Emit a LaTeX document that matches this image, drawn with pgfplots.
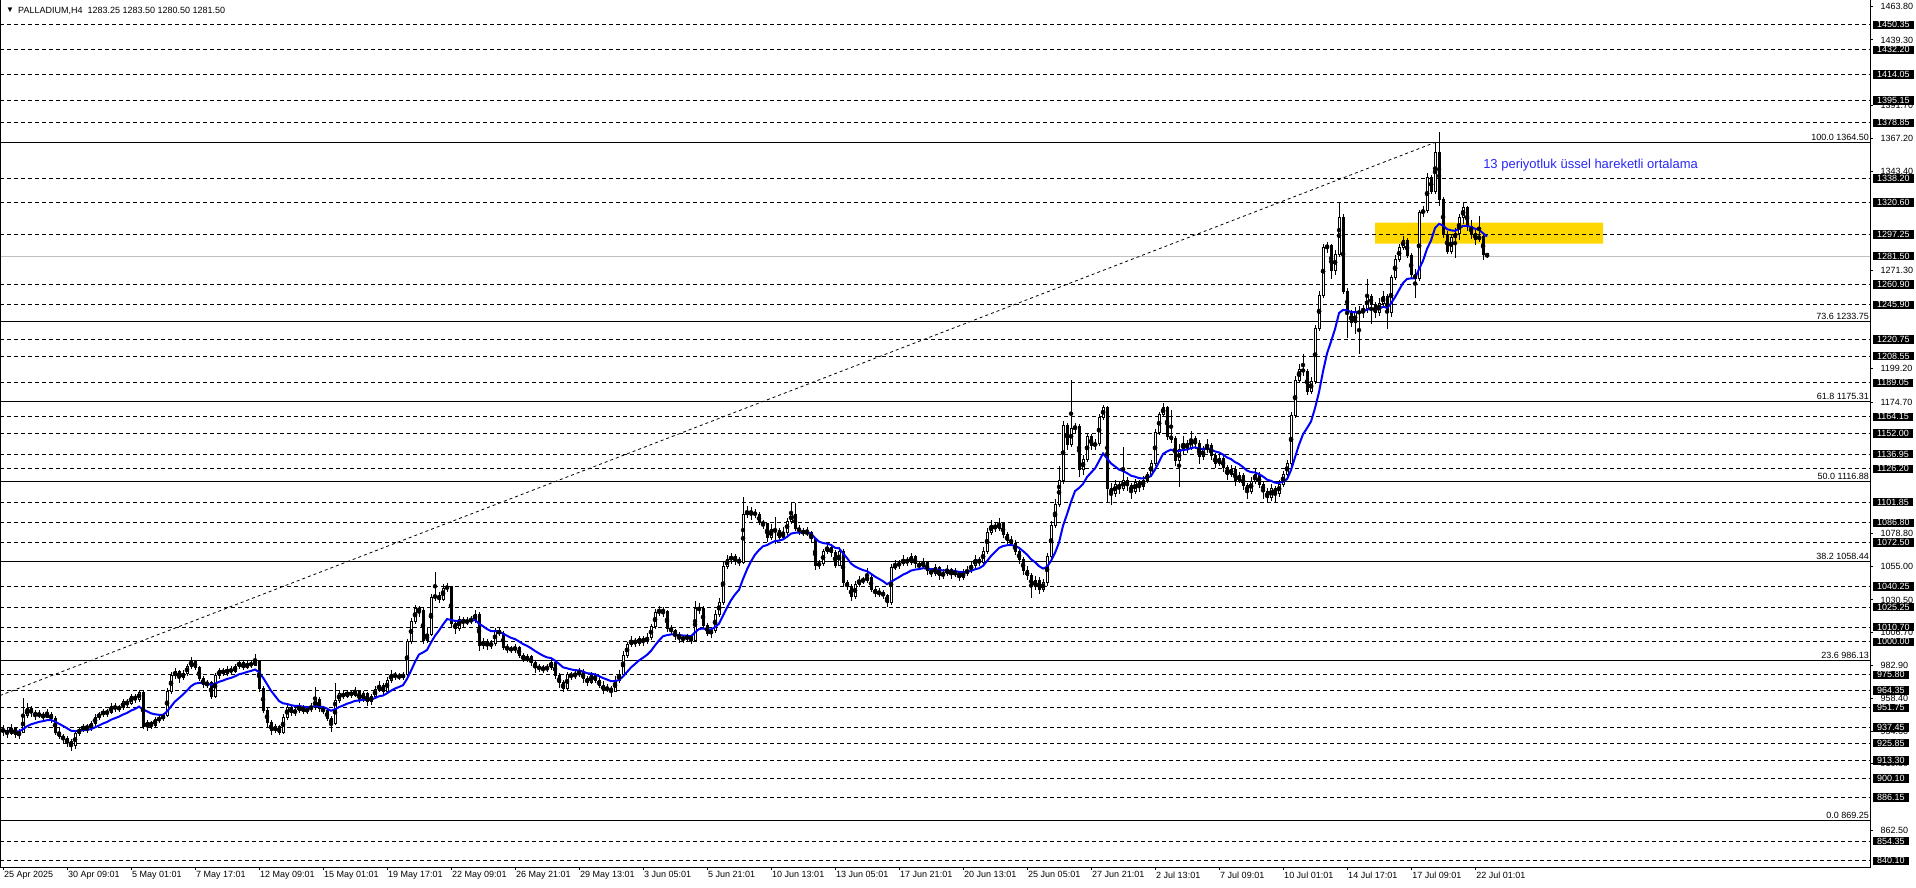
\documentclass[border=0pt]{standalone}
\usepackage{pgfplots}
\pgfplotsset{compat=1.18}
\usepackage{pgfplotstable}
\usepackage{fontspec}
\setmainfont{Liberation Sans}
\definecolor{emablue}{RGB}{0,0,255}
\definecolor{boxgold}{RGB}{255,215,0}
\definecolor{notecol}{RGB}{40,40,245}
\definecolor{pricegray}{RGB}{192,192,192}
\newcommand{\fs}{\fontsize{9}{10}\selectfont}

% H4 candles: bar index, open, high, low, close
\pgfplotstableread{
i o h l c
0 936 939 931 935
1 935 937 930 933
2 933 940 932 937
3 937 938 930 932
4 932 936 929 934
5 934 959 933 946
6 946 955 944 951
7 951 953 945 948
8 948 950 943 946
9 946 950 944 947
10 947 949 942 945
11 945 951 944 947
12 947 949 941 944
13 944 946 932 934
14 934 937 929 931
15 931 933 926 929
16 929 931 923 927
17 927 929 920 924
18 924 935 922 933
19 933 938 931 936
20 936 940 934 938
21 938 940 933 937
22 937 942 935 940
23 940 947 938 945
24 945 949 943 947
25 947 951 945 949
26 949 951 945 948
27 948 955 947 953
28 953 955 949 951
29 951 954 949 952
30 952 958 950 956
31 956 958 952 955
32 955 962 954 960
33 960 962 955 958
34 958 965 956 963
35 963 964 936 938
36 938 943 935 941
37 941 942 936 939
38 939 945 938 943
39 943 946 941 944
40 944 948 942 946
41 946 966 945 964
42 964 978 962 975
43 975 981 973 978
44 978 979 970 974
45 974 979 972 977
46 977 984 975 982
47 982 989 980 986
48 986 987 979 981
49 981 982 971 973
50 973 975 966 969
51 969 972 966 970
52 970 971 958 960
53 960 977 959 975
54 975 981 973 979
55 979 981 975 977
56 977 982 975 980
57 980 982 976 978
58 978 984 977 982
59 982 987 980 985
60 985 986 979 981
61 981 986 980 984
62 984 986 981 983
63 983 991 982 986
64 986 987 963 966
65 966 968 948 950
66 950 952 938 941
67 941 943 932 935
68 935 940 933 938
69 938 939 932 934
70 934 947 933 945
71 945 955 943 952
72 952 954 946 948
73 948 952 946 950
74 950 955 948 953
75 953 954 947 949
76 949 953 947 951
77 951 955 949 952
78 952 967 950 958
79 958 960 949 951
80 951 953 947 950
81 950 951 942 944
82 944 946 934 940
83 940 970 939 957
84 957 965 955 962
85 962 964 958 960
86 960 965 959 963
87 963 965 959 961
88 961 967 960 964
89 964 965 955 958
90 958 964 956 962
91 962 963 953 956
92 956 962 954 960
93 960 968 958 965
94 965 971 963 968
95 968 970 961 964
96 964 974 963 972
97 972 979 970 976
98 976 978 972 975
99 975 977 972 974
100 974 978 972 976
101 976 1002 975 1000
102 1000 1017 998 1015
103 1015 1027 1013 1024
104 1024 1026 1018 1023
105 1023 1025 998 1001
106 1001 1010 999 1005
107 1005 1035 1004 1032
108 1032 1051 1030 1034
109 1034 1036 1028 1031
110 1031 1042 1030 1039
111 1039 1043 1036 1040
112 1040 1041 1011 1013
113 1013 1016 1006 1010
114 1010 1019 1008 1016
115 1016 1018 1011 1014
116 1014 1018 1012 1015
117 1015 1019 1013 1016
118 1016 1023 1014 1020
119 1020 1022 993 997
120 997 1003 995 1000
121 1000 1002 994 997
122 997 1001 995 999
123 999 1010 997 1008
124 1008 1010 1004 1006
125 1006 1008 994 996
126 996 998 992 995
127 995 997 992 994
128 994 998 992 996
129 996 997 988 990
130 990 992 985 987
131 987 991 985 989
132 989 990 982 985
133 985 987 977 981
134 981 984 978 981
135 981 983 977 980
136 980 984 978 981
137 981 988 979 985
138 985 987 973 975
139 975 977 966 970
140 970 972 963 966
141 966 978 964 976
142 976 978 972 975
143 975 979 973 976
144 976 981 974 978
145 978 980 970 973
146 973 975 968 970
147 970 978 969 975
148 975 977 970 972
149 972 974 966 968
150 968 971 962 965
151 965 969 963 966
152 966 968 960 964
153 964 975 963 972
154 972 979 970 976
155 976 993 975 990
156 990 1000 988 998
157 998 1004 996 1001
158 1001 1003 996 999
159 999 1004 997 1002
160 1002 1004 997 1000
161 1000 1006 998 1003
162 1003 1013 1001 1011
163 1011 1024 1009 1021
164 1021 1026 1019 1023
165 1023 1025 1018 1022
166 1022 1023 1007 1010
167 1010 1012 1005 1008
168 1008 1009 1001 1005
169 1005 1007 999 1003
170 1003 1005 999 1002
171 1002 1006 1000 1004
172 1004 1005 998 1001
173 1001 1030 1000 1024
174 1024 1028 1020 1024
175 1024 1026 1010 1012
176 1012 1014 1004 1006
177 1006 1011 1003 1008
178 1008 1023 1006 1020
179 1020 1032 1018 1029
180 1029 1058 1027 1055
181 1055 1063 1053 1060
182 1060 1065 1057 1062
183 1062 1064 1056 1060
184 1060 1062 1055 1058
185 1058 1106 1057 1093
186 1093 1099 1090 1095
187 1095 1098 1089 1094
188 1094 1097 1090 1093
189 1093 1095 1085 1087
190 1087 1089 1082 1086
191 1086 1087 1073 1076
192 1076 1086 1074 1082
193 1082 1091 1071 1081
194 1081 1083 1074 1076
195 1076 1084 1074 1080
196 1080 1090 1078 1088
197 1088 1102 1086 1093
198 1093 1101 1081 1083
199 1083 1085 1078 1081
200 1081 1083 1077 1079
201 1079 1084 1077 1080
202 1080 1081 1072 1075
203 1075 1076 1052 1056
204 1056 1060 1053 1057
205 1057 1068 1055 1066
206 1066 1072 1064 1069
207 1069 1071 1062 1065
208 1065 1067 1054 1056
209 1056 1069 1055 1066
210 1066 1068 1041 1043
211 1043 1045 1038 1040
212 1040 1042 1030 1033
213 1033 1044 1031 1042
214 1042 1048 1040 1045
215 1045 1047 1042 1045
216 1045 1054 1043 1047
217 1047 1049 1036 1038
218 1038 1040 1033 1035
219 1035 1039 1033 1036
220 1036 1038 1031 1034
221 1034 1035 1025 1029
222 1029 1057 1027 1054
223 1054 1060 1052 1056
224 1056 1060 1053 1057
225 1057 1063 1055 1060
226 1060 1062 1055 1058
227 1058 1065 1056 1062
228 1062 1063 1054 1057
229 1057 1059 1052 1055
230 1055 1061 1053 1058
231 1058 1059 1049 1052
232 1052 1054 1047 1050
233 1050 1057 1048 1054
234 1054 1055 1045 1048
235 1048 1053 1046 1050
236 1050 1056 1048 1053
237 1053 1054 1046 1049
238 1049 1054 1047 1051
239 1051 1052 1044 1047
240 1047 1053 1045 1050
241 1050 1055 1048 1052
242 1052 1059 1050 1056
243 1056 1063 1054 1060
244 1060 1062 1055 1058
245 1058 1069 1056 1066
246 1066 1083 1064 1080
247 1080 1089 1078 1085
248 1085 1087 1080 1083
249 1083 1090 1081 1086
250 1086 1087 1076 1078
251 1078 1080 1071 1074
252 1074 1077 1070 1072
253 1072 1074 1063 1066
254 1066 1068 1057 1060
255 1060 1062 1049 1052
256 1052 1055 1045 1048
257 1048 1050 1032 1040
258 1040 1048 1038 1045
259 1045 1047 1035 1038
260 1038 1046 1036 1043
261 1043 1065 1041 1062
262 1062 1088 1060 1085
263 1085 1104 1083 1100
264 1100 1128 1098 1118
265 1118 1161 1115 1158
266 1158 1160 1140 1144
267 1144 1191 1142 1156
268 1156 1160 1152 1157
269 1157 1159 1120 1126
270 1126 1136 1122 1133
271 1133 1152 1131 1150
272 1150 1152 1140 1143
273 1143 1148 1140 1145
274 1145 1166 1143 1164
275 1164 1173 1162 1171
276 1171 1172 1102 1112
277 1112 1116 1100 1108
278 1108 1118 1106 1115
279 1115 1117 1108 1112
280 1112 1142 1110 1118
281 1118 1120 1110 1114
282 1114 1116 1104 1110
283 1110 1119 1108 1116
284 1116 1118 1109 1113
285 1113 1121 1111 1118
286 1118 1124 1116 1122
287 1122 1133 1120 1130
288 1130 1155 1128 1153
289 1153 1168 1151 1166
290 1166 1174 1164 1171
291 1171 1172 1147 1150
292 1150 1169 1145 1148
293 1148 1150 1128 1132
294 1132 1144 1113 1140
295 1140 1150 1137 1145
296 1145 1147 1138 1142
297 1142 1154 1140 1148
298 1148 1150 1141 1145
299 1145 1147 1130 1135
300 1135 1143 1133 1140
301 1140 1148 1138 1143
302 1143 1145 1133 1136
303 1136 1138 1127 1130
304 1130 1137 1128 1134
305 1134 1136 1124 1127
306 1127 1129 1118 1122
307 1122 1129 1120 1126
308 1126 1128 1114 1118
309 1118 1124 1116 1121
310 1121 1123 1111 1114
311 1114 1116 1104 1110
312 1110 1120 1108 1117
313 1117 1126 1115 1122
314 1122 1124 1112 1115
315 1115 1117 1104 1110
316 1110 1112 1101 1105
317 1105 1115 1103 1112
318 1112 1114 1102 1108
319 1108 1118 1106 1115
320 1115 1125 1113 1122
321 1122 1133 1120 1130
322 1130 1168 1128 1165
323 1165 1194 1163 1191
324 1191 1203 1189 1199
325 1199 1210 1194 1197
326 1197 1199 1180 1183
327 1183 1193 1181 1190
328 1190 1231 1188 1229
329 1229 1256 1227 1253
330 1253 1290 1251 1288
331 1288 1292 1284 1289
332 1289 1290 1265 1271
333 1271 1286 1268 1283
334 1283 1320 1281 1310
335 1310 1312 1254 1256
336 1256 1258 1222 1240
337 1240 1242 1230 1233
338 1233 1244 1225 1240
339 1240 1245 1210 1241
340 1241 1246 1236 1243
341 1243 1265 1240 1252
342 1252 1254 1232 1246
343 1246 1248 1236 1240
344 1240 1251 1238 1247
345 1247 1256 1245 1252
346 1252 1254 1228 1240
347 1240 1268 1237 1266
348 1266 1282 1264 1279
349 1279 1290 1277 1288
350 1288 1296 1286 1293
351 1293 1295 1280 1282
352 1282 1284 1265 1268
353 1268 1272 1251 1265
354 1265 1315 1263 1313
355 1313 1318 1310 1315
356 1315 1342 1313 1339
357 1339 1341 1327 1329
358 1329 1364 1327 1357
359 1357 1372 1318 1323
360 1323 1325 1295 1297
361 1297 1300 1283 1285
362 1285 1298 1283 1295
363 1295 1302 1280 1298
364 1298 1312 1293 1310
365 1310 1320 1305 1317
366 1317 1318 1300 1303
367 1303 1308 1294 1298
368 1298 1302 1290 1294
369 1294 1311 1292 1296
370 1296 1298 1279 1283
371 1283.25 1283.5 1280.5 1281.5
}\candles
% 13-period exponential moving average of the closes
\pgfplotstablecreatecol[create col/expr accum={\pgfmathaccuma+(\thisrow{c}-\pgfmathaccuma)/7}{935}]{ema}{\candles}

\begin{document}
\begin{tikzpicture}[x=1pt,y=1pt]
\useasboundingbox (0,0) rectangle (1916,888);
\begin{axis}[
  at={(0,15)}, anchor=south west,
  scale only axis, width=1870pt, height=868pt,
  xmin=-0.75, xmax=466.75, ymin=835.2, ymax=1468.9,
  clip=false,
  axis line style={draw=none},
  tick align=outside, major tick length=3pt,
  tick style={black, line width=1pt},
  xtick pos=left, ytick pos=right,
  xticklabel pos=left, yticklabel pos=right,
  xtick={0,16,...,368},
  xticklabels={25 Apr 2025,30 Apr 09:01,5 May 01:01,7 May 17:01,12 May 09:01,15 May 01:01,19 May 17:01,22 May 09:01,26 May 21:01,29 May 13:01,3 Jun 05:01,5 Jun 21:01,10 Jun 13:01,13 Jun 05:01,17 Jun 21:01,20 Jun 13:01,25 Jun 05:01,27 Jun 21:01,2 Jul 13:01,7 Jul 09:01,10 Jul 01:01,14 Jul 17:01,17 Jul 09:01,22 Jul 01:01},
  xticklabel style={font=\fs, anchor=north west, inner sep=1pt, xshift=0pt},
  ytick={1463.8,1439.3,1391.7,1367.2,1343.4,1271.3,1199.2,1174.7,1078.8,1055.0,1030.5,1006.7,982.9,958.4,934.6,910.8,862.5},
  yticklabel={\pgfmathprintnumber[fixed,fixed zerofill,precision=2,1000 sep={},assume math mode=true]{\tick}},
  yticklabel style={font=\fs, anchor=west, xshift=4pt},
]
% support/resistance zone
\addplot[draw=none, fill=boxgold, mark=none] coordinates {(343,1290.7) (400,1290.7) (400,1306) (343,1306) (343,1290.7)};
% horizontal levels
\pgfplotsinvokeforeach{1450.35,1432.20,1414.05,1395.15,1378.85,1338.20,1320.60,1297.25,1260.90,1245.90,1220.75,1208.55,1189.05,1164.15,1152.00,1136.95,1126.20,1101.85,1086.80,1072.50,1040.25,1025.25,1010.70,1000.00,975.80,964.35,951.75,937.45,925.85,913.30,900.10,886.15,854.35,840.10}{
  \addplot[black, line width=1pt, dash pattern=on 4pt off 3pt, mark=none] coordinates {(-0.75,#1) (466.75,#1)};
}
% fibonacci levels
\pgfplotsinvokeforeach{1364.50,1233.75,1175.31,1116.88,1058.44,986.13,869.25}{
  \addplot[black, line width=1pt, mark=none] coordinates {(-0.75,#1) (466.75,#1)};
}
% bid line
\addplot[pricegray, line width=1pt, mark=none] coordinates {(-0.75,1281.5) (466.75,1281.5)};
% trend line
\addplot[black, line width=0.8pt, dash pattern=on 3pt off 3pt, mark=none] coordinates {(-0.75,960.7) (358,1364.5)};
% wicks
\addplot[only marks, mark=none, error bars/.cd, y dir=both, y explicit, error mark=none,
  error bar style={draw=black, line width=1pt}]
  table[x=i, y expr={(\thisrow{h}+\thisrow{l})/2}, y error expr={(\thisrow{h}-\thisrow{l})/2}] {\candles};
% bodies
\addplot[only marks, mark=none, error bars/.cd, y dir=both, y explicit, error mark=none,
  error bar style={draw=black, line width=3pt}]
  table[x=i, y expr={(\thisrow{o}+\thisrow{c})/2}, y error expr={abs(\thisrow{c}-\thisrow{o})/2+0.37}] {\candles};
% hollow bullish bodies
\addplot[only marks, mark=none, restrict expr to domain={\thisrow{c}-\thisrow{o}}{1.5:10000},
  error bars/.cd, y dir=both, y explicit, error mark=none,
  error bar style={draw=white, line width=1pt}]
  table[x=i, y expr={(\thisrow{o}+\thisrow{c})/2}, y error expr={(\thisrow{c}-\thisrow{o})/2-0.36}] {\candles};
% EMA 13
\addplot[emablue, line width=2pt, mark=none] table[x=i, y=ema] {\candles};
% fibonacci labels
\node[font=\fs, anchor=base east, inner sep=1pt, yshift=2pt] at (axis cs:466.75,1364.50) {100.0 1364.50};
\node[font=\fs, anchor=base east, inner sep=1pt, yshift=2pt] at (axis cs:466.75,1233.75) {73.6 1233.75};
\node[font=\fs, anchor=base east, inner sep=1pt, yshift=2pt] at (axis cs:466.75,1175.31) {61.8 1175.31};
\node[font=\fs, anchor=base east, inner sep=1pt, yshift=2pt] at (axis cs:466.75,1116.88) {50.0 1116.88};
\node[font=\fs, anchor=base east, inner sep=1pt, yshift=2pt] at (axis cs:466.75,1058.44) {38.2 1058.44};
\node[font=\fs, anchor=base east, inner sep=1pt, yshift=2pt] at (axis cs:466.75,986.13) {23.6 986.13};
\node[font=\fs, anchor=base east, inner sep=1pt, yshift=2pt] at (axis cs:466.75,869.25) {0.0 869.25};
% note
\node[text=notecol, font=\fontsize{13}{15}\selectfont, anchor=base west, inner sep=0pt] at (axis cs:370,1345.3) {13 periyotluk üssel hareketli ortalama};
% frame
\draw[black, line width=1pt] (rel axis cs:0,1) -- (rel axis cs:0,0) -- (rel axis cs:1,0) -- (rel axis cs:1,1);
\end{axis}
% price boxes on the right scale
\begin{axis}[
  at={(0,15)}, anchor=south west,
  scale only axis, width=1870pt, height=868pt,
  xmin=-0.75, xmax=466.75, ymin=835.2, ymax=1468.9,
  axis line style={draw=none},
  xtick=\empty,
  ytick pos=right, yticklabel pos=right,
  major tick length=0pt, tick style={draw=none},
  ytick={1450.35,1432.20,1414.05,1395.15,1378.85,1338.20,1320.60,1297.25,1281.50,1260.90,1245.90,1220.75,1208.55,1189.05,1164.15,1152.00,1136.95,1126.20,1101.85,1086.80,1072.50,1040.25,1025.25,1010.70,1000.00,975.80,964.35,951.75,937.45,925.85,913.30,900.10,886.15,854.35,840.10},
  yticklabel={\pgfmathprintnumber[fixed,fixed zerofill,precision=2,1000 sep={},assume math mode=true]{\tick}},
  yticklabel style={font=\fs, anchor=west, fill=black, text=white, inner xsep=4.5pt, inner ysep=1pt, xshift=2.3pt},
]
\end{axis}
\node[font=\fontsize{8}{9}\selectfont, anchor=base west, inner sep=0pt] at (6,875) {▼};
\node[font=\fs, anchor=base west, inner sep=0pt] at (18,874) {PALLADIUM,H4\ \ 1283.25 1283.50 1280.50 1281.50};
\end{tikzpicture}
\end{document}
